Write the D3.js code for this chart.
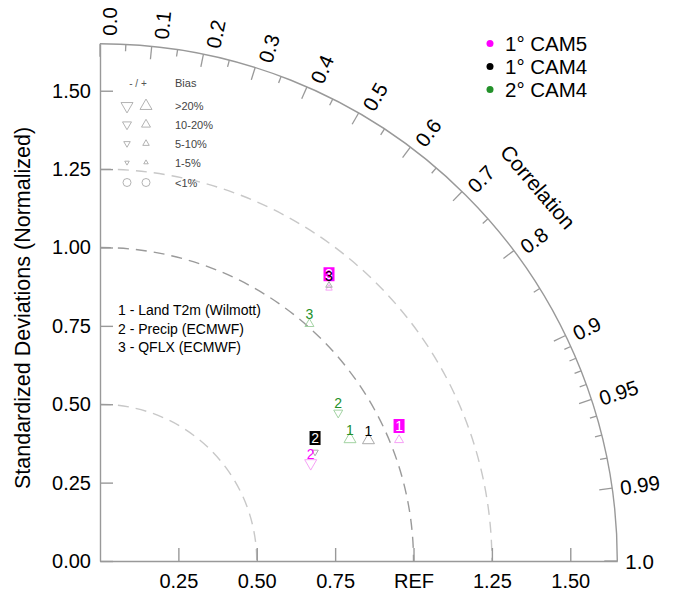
<!DOCTYPE html>
<html>
<head>
<meta charset="utf-8">
<script src="https://cdn.jsdelivr.net/npm/d3@7"></script>
<style>
  body { margin: 0; background: #fff; }
  svg { font-family: "Liberation Sans", Arial, Helvetica, sans-serif; }
</style>
</head>
<body>
<div id="taylor"></div>
<script>
// Chart data
const models = ["1° CAM5", "1° CAM4", "2° CAM4"];
const variables = ["Land T2m (Wilmott)", "Precip (ECMWF)", "QFLX (ECMWF)"];

// normalized std dev, correlation and bias (%) for each variable, per model
const stdCam5 = [1.029, 0.741, 1.136];
const corrCam5 = [0.927, 0.907, 0.643];
const biasCam5 = [14, -22, 7];
const boxCam5 = [true, false, true];

const stdCam4 = [0.939, 0.769, 1.143];
const corrCam4 = [0.912, 0.892, 0.639];
const biasCam4 = [25, -8, 7];
const boxCam4 = [false, true, false];

const std2Cam4 = [0.887, 0.895, 1.009];
const corr2Cam4 = [0.899, 0.849, 0.662];
const bias2Cam4 = [25, -14, 14];
const box2Cam4 = [false, false, false];

// axis ticks
const stdTicks = [0, 0.25, 0.5, 0.75, 1.0, 1.25, 1.5];
const stdTickLabelsY = ["0.00", "0.25", "0.50", "0.75", "1.00", "1.25", "1.50"];
const stdTicksX = [0.25, 0.5, 0.75, 1.0, 1.25, 1.5];
const stdTickLabelsX = ["0.25", "0.50", "0.75", "REF", "1.25", "1.50"];
const corrMajor = [0, 0.1, 0.2, 0.3, 0.4, 0.5, 0.6, 0.7, 0.8, 0.9, 0.95, 0.99, 1.0];
const corrMajorLabels = ["0.0", "0.1", "0.2", "0.3", "0.4", "0.5", "0.6", "0.7", "0.8", "0.9", "0.95", "0.99", "1.0"];
const corrMinor = [0.05, 0.15, 0.25, 0.35, 0.45, 0.55, 0.65, 0.75, 0.85, 0.91, 0.92, 0.93, 0.94, 0.96, 0.97, 0.98];
const stdArcs = [0.5, 1.0, 1.25];

// bias legend classes
const biasClasses = [">20%", "10-20%", "5-10%", "1-5%", "<1%"];
const biasLimits = [20, 10, 5, 1, 0];

// styles
const colors = ["#ff00ff", "#000000", "#23912a"];
const lightColors = ["#f6a2f6", "#aaaaaa", "#a3d3a3"];
const markerSides = [12, 9, 6.5, 4.5];
const arcStyles = {0.5: "#c8c8c8", 1.0: "#9a9a9a", 1.25: "#c8c8c8"};

const width = 673, height = 593;
const ox = 100, oy = 561;
const maxStd = 1.65;
const R = 517.3;

const svg = d3.select("#taylor").append("svg")
  .attr("width", width)
  .attr("height", height);

const g = svg.append("g")
  .attr("transform", "translate(" + ox + "," + oy + ")");

const r = d3.scaleLinear().domain([0, maxStd]).range([0, R]);
const yScale = d3.scaleLinear().domain([0, maxStd]).range([0, -R]);
const xScale = d3.scaleLinear().domain([0, maxStd]).range([0, R]);

const pos = (s, c) => [r(s * c), -r(s * Math.sqrt(1 - c * c))];

// dashed std arcs
stdArcs.forEach(s => {
  const p = d3.path();
  p.arc(0, 0, r(s), -Math.PI / 2, 0);
  g.append("path")
    .attr("d", p.toString())
    .attr("fill", "none")
    .attr("stroke", arcStyles[s])
    .attr("stroke-width", 1.4)
    .attr("stroke-dasharray", "11,7");
});

// Y axis
const yAxis = g.append("g")
  .call(d3.axisLeft(yScale)
    .tickValues(stdTicks)
    .tickSizeInner(-13)
    .tickSizeOuter(0)
    .tickPadding(9)
    .tickFormat((d, i) => stdTickLabelsY[i]));

// X axis
const xAxis = g.append("g")
  .call(d3.axisBottom(xScale)
    .tickValues(stdTicksX)
    .tickSizeInner(-13)
    .tickSizeOuter(0)
    .tickPadding(13)
    .tickFormat((d, i) => stdTickLabelsX[i]));

[yAxis, xAxis].forEach(ax => {
  ax.attr("font-family", null).attr("font-size", null);
  ax.selectAll("path, line").attr("stroke", "#999").attr("stroke-width", 1.4);
  ax.selectAll("text").attr("fill", "#000").style("font-size", "20px");
});

// outer correlation arc
const outer = d3.path();
outer.arc(0, 0, R, -Math.PI / 2, 0);
g.append("path")
  .attr("d", outer.toString())
  .attr("fill", "none")
  .attr("stroke", "#999")
  .attr("stroke-width", 1.4);

// correlation ticks
function corrTick(c, len) {
  const a = Math.acos(c);
  return g.append("line")
    .attr("x1", R * Math.cos(a)).attr("y1", -R * Math.sin(a))
    .attr("x2", (R - len) * Math.cos(a)).attr("y2", -(R - len) * Math.sin(a))
    .attr("stroke", "#999")
    .attr("stroke-width", 1.3);
}
corrMajor.forEach(c => corrTick(c, 13));
corrMinor.forEach(c => corrTick(c, 7));

// correlation labels
g.selectAll(".corr-label")
  .data(corrMajor)
  .enter().append("text")
  .attr("class", "corr-label")
  .attr("transform", c => {
    const deg = Math.acos(c) * 180 / Math.PI;
    return "rotate(" + (-deg) + ") translate(" + (R + 8) + "," + (deg / 10) + ")";
  })
  .attr("dominant-baseline", "central")
  .style("font-size", "20.5px")
  .text((c, i) => corrMajorLabels[i]);

// correlation title
const titleAngle = 40.5;
g.append("text")
  .attr("transform", "rotate(" + (-titleAngle) + ") translate(" + 576 + ",0) rotate(90)")
  .attr("text-anchor", "middle")
  .attr("dominant-baseline", "central")
  .style("font-size", "21px")
  .text("Correlation");

// Y axis title
svg.append("text")
  .attr("transform", "translate(30,308) rotate(-90)")
  .attr("text-anchor", "middle")
  .style("font-size", "21.5px")
  .text("Standardized Deviations (Normalized)");

// bias legend
const bl = svg.append("g");
bl.append("text").attr("x", 138).attr("y", 87).attr("text-anchor", "middle")
  .style("font-size", "10px").attr("fill", "#555").text("- / +");
bl.append("text").attr("x", 175).attr("y", 87)
  .style("font-size", "11px").attr("fill", "#444").text("Bias");
const rowY = [106, 124.5, 143.5, 162.5, 182.5];
biasClasses.forEach((label, i) => {
  if (i < 4) {
    const side = markerSides[i];
    const area = Math.sqrt(3) / 4 * side * side;
    const tri = d3.symbol().type(d3.symbolTriangle).size(area)();
    bl.append("path").attr("d", tri)
      .attr("transform", "translate(127," + rowY[i] + ") rotate(180)")
      .attr("fill", "none").attr("stroke", "#aaa").attr("stroke-width", 0.9);
    bl.append("path").attr("d", tri)
      .attr("transform", "translate(146," + rowY[i] + ")")
      .attr("fill", "none").attr("stroke", "#aaa").attr("stroke-width", 0.9);
  } else {
    [127, 146].forEach(x => bl.append("circle")
      .attr("cx", x).attr("cy", rowY[i]).attr("r", 4)
      .attr("fill", "none").attr("stroke", "#aaa").attr("stroke-width", 0.9));
  }
  bl.append("text").attr("x", 175).attr("y", rowY[i] + 4)
    .style("font-size", "11px").attr("fill", "#444").text(label);
});

// variable legend
variables.forEach((v, i) => {
  svg.append("text")
    .attr("x", 118).attr("y", 315 + i * 18.5)
    .style("font-size", "14px")
    .text((i + 1) + " - " + v);
});

// model legend
models.forEach((m, i) => {
  svg.append("circle").attr("cx", 490).attr("cy", 43.5 + i * 23).attr("r", 3.5)
    .attr("fill", colors[i]);
  svg.append("text").attr("x", 505).attr("y", 43.5 + i * 23)
    .attr("dominant-baseline", "central")
    .style("font-size", "20.5px")
    .text(m);
});

// data points
const series = [
  { std: stdCam5, corr: corrCam5, bias: biasCam5, box: boxCam5 },
  { std: stdCam4, corr: corrCam4, bias: biasCam4, box: boxCam4 },
  { std: std2Cam4, corr: corr2Cam4, bias: bias2Cam4, box: box2Cam4 }
];

function markerFor(bias) {
  const a = Math.abs(bias);
  const k = biasLimits.findIndex(l => a > l);
  if (k === 4 || k < 0) return { type: d3.symbolCircle, size: Math.PI * 16, rot: 0 };
  const side = markerSides[k];
  return { type: d3.symbolTriangle, size: Math.sqrt(3) / 4 * side * side, rot: bias < 0 ? 180 : 0 };
}

const pts = g.append("g");
series.forEach((s, m) => {
  s.std.forEach((sd, i) => {
    const [x, y] = pos(sd, s.corr[i]);
    const mk = markerFor(s.bias[i]);
    pts.append("path")
      .attr("d", d3.symbol().type(mk.type).size(mk.size)())
      .attr("transform", "translate(" + x + "," + y + ") rotate(" + mk.rot + ")")
      .attr("fill", "none")
      .attr("stroke", lightColors[m])
      .attr("stroke-width", 1);
  });
});
series.forEach((s, m) => {
  s.std.forEach((sd, i) => {
    const [x, y] = pos(sd, s.corr[i]);
    const by = s.box[i] ? y - 9 : y - 4.5;
    if (s.box[i]) {
      pts.append("rect")
        .attr("x", x - 5.5).attr("y", by - 12)
        .attr("width", 11).attr("height", 14)
        .attr("fill", colors[m]);
    }
    pts.append("text")
      .attr("x", x).attr("y", by)
      .attr("text-anchor", "middle")
      .style("font-size", "14px")
      .attr("fill", s.box[i] ? "#fff" : colors[m])
      .text(i + 1);
  });
});
</script>
</body>
</html>
